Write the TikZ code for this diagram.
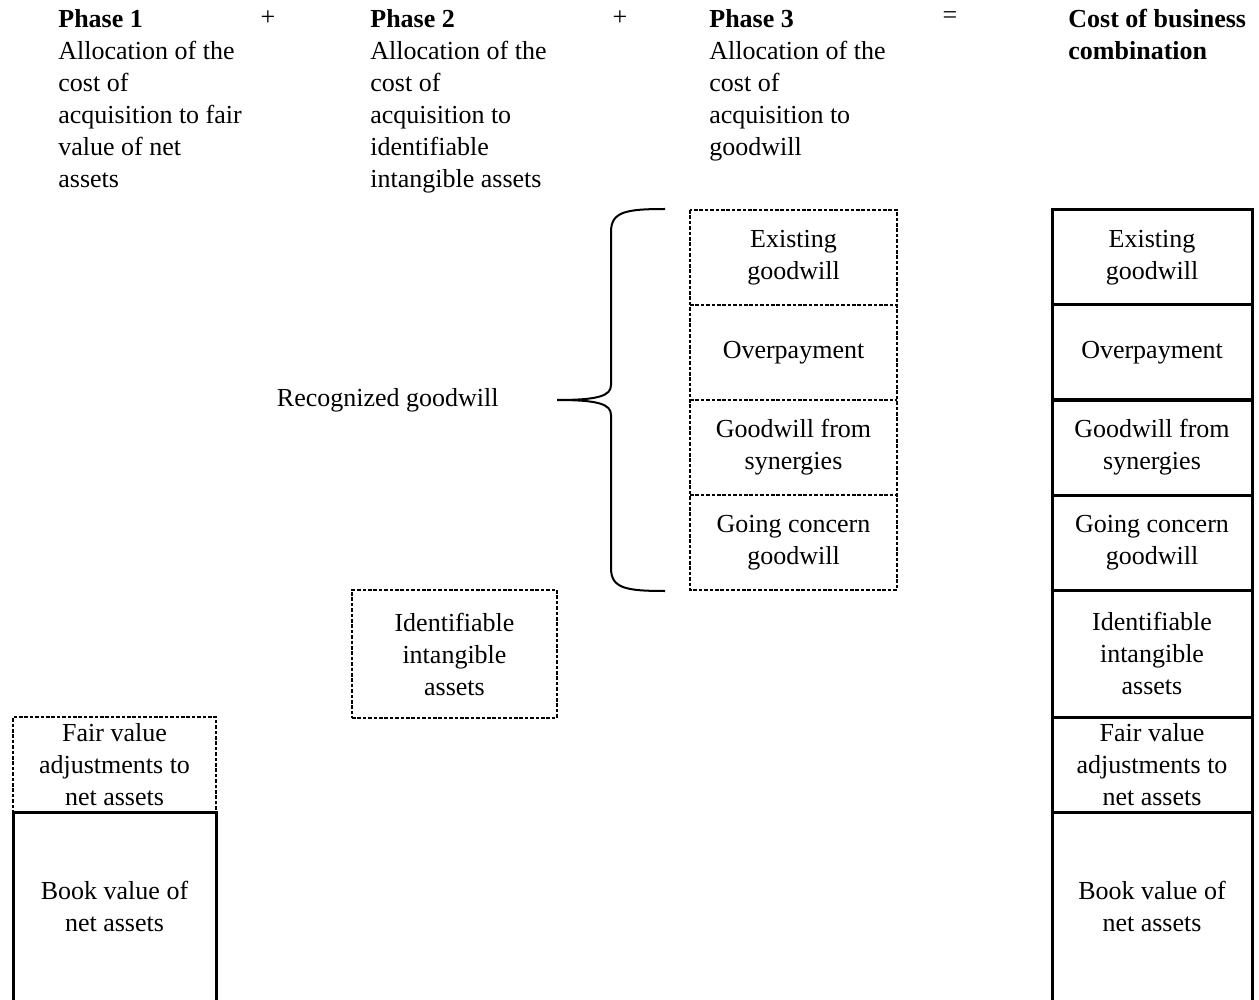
\documentclass[tikz,border=0pt]{standalone}
\usepackage{fontspec}
\setmainfont{Liberation Serif}
\usetikzlibrary{positioning}

\begin{document}
\begin{tikzpicture}[x=0.5pt, y=-0.5pt, font=\fontsize{13}{16}\selectfont,
    dotline/.style={line width=0.9pt, dash pattern=on 1.8pt off 0.9pt},
    dotbox/.style={draw, dotline, align=center, inner sep=0pt, outer sep=0pt, minimum height=47.5pt},
    dotcell/.style={dotbox, draw=none},
    solidbox/.style={draw, line width=1.5pt, align=center, inner sep=0pt, outer sep=0pt,
      minimum width=100pt, minimum height=47.5pt},
    openbox/.style={solidbox, draw=none},
    thickline/.style={line width=1.5pt},
    hdr/.style={align=left, anchor=north west, inner sep=0pt}]
  \useasboundingbox (0,0) rectangle (1259,1000);

  % headers
  \node[hdr] (ph1) at (58,9) {\textbf{Phase 1}\\Allocation of the\\cost of\\acquisition to fair\\value of net\\assets};
  \node (plus1) at (268,18) {+};
  \node[hdr] (ph2) at (370,9) {\textbf{Phase 2}\\Allocation of the\\cost of\\acquisition to\\identifiable\\intangible assets};
  \node (plus2) at (620,18) {+};
  \node[hdr] (ph3) at (709,9) {\textbf{Phase 3}\\Allocation of the\\cost of\\acquisition to\\goodwill};
  \node (eq) at (950,18) {=};
  \node[hdr] (total) at (1068,9) {\textbf{Cost of business}\\\textbf{combination}};

  % phase 1
  \node[dotbox, minimum width=101.5pt] (fva1) at (114.5,764.5) {Fair value\\adjustments to\\net assets};
  \node[openbox, minimum width=101.5pt, minimum height=94pt] (bv1) at (114.5,906) {Book value of\\net assets};
  \draw[thickline] (bv1.south west) |- (bv1.north east) -- (bv1.south east);

  % phase 2
  \node[dotbox, minimum width=102.5pt, minimum height=64pt] (iia2) at (454.5,654) {Identifiable\\intangible\\assets};

  % phase 3
  \node[dotcell, minimum width=103.5pt] (eg3) at (793.5,257.5) {Existing\\goodwill};
  \node[dotcell, minimum width=103.5pt] (op3) [below=0pt of eg3] {Overpayment};
  \node[dotcell, minimum width=103.5pt] (syn3) [below=0pt of op3] {Goodwill from\\synergies};
  \node[dotcell, minimum width=103.5pt] (gc3) [below=0pt of syn3] {Going concern\\goodwill};
  \draw[dotline] (eg3.north west) rectangle (gc3.south east);
  \draw[dotline] (op3.north west) -- (op3.north east);
  \draw[dotline] (syn3.north west) -- (syn3.north east);
  \draw[dotline] (gc3.north west) -- (gc3.north east);

  % brace
  \coordinate (tip) at (557,400);
  \draw[line width=1pt] (665,209) .. controls (625,209) and (611,212) .. (611,232) -- (611,385)
    .. controls (611,396) and (598,400) .. (tip)
    .. controls (598,400) and (611,404) .. (611,415) -- (611,568)
    .. controls (611,588) and (625,591) .. (665,591);
  \node[inner sep=0pt] (recog) [left=29pt of tip] {Recognized goodwill};

  % cost of business combination
  \node[solidbox] (eg) at (1152,257.5) {Existing\\goodwill};
  \node[solidbox] (op) [below=0pt of eg] {Overpayment};
  \node[solidbox] (syn) [below=0pt of op] {Goodwill from\\synergies};
  \node[solidbox] (gc) [below=0pt of syn] {Going concern\\goodwill};
  \node[solidbox, minimum height=63.5pt] (iia) [below=0pt of gc] {Identifiable\\intangible\\assets};
  \node[solidbox] (fva) [below=0pt of iia] {Fair value\\adjustments to\\net assets};
  \node[openbox, minimum height=94pt] (bv) [below=0pt of fva] {Book value of\\net assets};
  \draw[thickline] (bv.south west) |- (bv.north east) -- (bv.south east);
\end{tikzpicture}
\end{document}
